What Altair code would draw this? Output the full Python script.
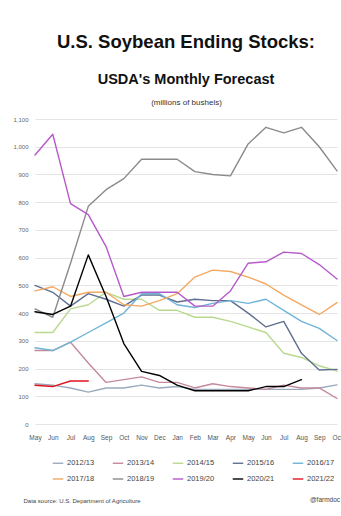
import altair as alt
import pandas as pd

# Forecast months: May of the first marketing year through October of the next
months = ["May", "Jun", "Jul", "Aug", "Sep", "Oct", "Nov", "Dec", "Jan",
          "Feb", "Mar", "Apr", "May", "Jun", "Jul", "Aug", "Sep", "Oct"]

years = ["2012/13", "2013/14", "2014/15", "2015/16", "2016/17",
         "2017/18", "2018/19", "2019/20", "2020/21", "2021/22"]

# USDA monthly ending-stock forecasts, millions of bushels (None = no report)
s_2012 = [145, 140, 130, 115, 130, 130, 140, 130, 135, 125, 125, 125, 125, 125, 125, 125, 130, 141]
s_2013 = [265, 265, 295, 220, 150, None, 170, 150, 150, 130, 145, 135, 130, 125, 140, 130, 130, 92]
s_2014 = [330, 330, 415, 430, 475, 450, 450, 410, 410, 385, 385, 370, 350, 330, 255, 240, 210, 191]
s_2015 = [500, 475, 425, 470, 450, 425, 465, 465, 440, 450, 445, 445, 400, 350, 370, 255, 195, 197]
s_2016 = [275, 265, 295, 330, 365, 400, 470, 470, 430, 420, 435, 445, 435, 450, 410, 370, 345, 301]
s_2017 = [480, 495, 460, 475, 475, 430, 425, 445, 470, 530, 555, 550, 530, 505, 465, 430, 395, 438]
s_2018 = [415, 385, 580, 785, 845, 885, 955, 955, 955, 910, 900, 895, 1010, 1070, 1050, 1070, 1000, 913]
s_2019 = [970, 1045, 795, 755, 640, 460, 475, 475, 475, 425, 425, 480, 580, 585, 620, 615, 575, 523]
s_2020 = [405, 395, 425, 610, 460, 290, 190, 175, 140, 120, 120, 120, 120, 135, 135, 160]
s_2021 = [140, 135, 155, 155]

series = [s_2012, s_2013, s_2014, s_2015, s_2016, s_2017, s_2018, s_2019, s_2020, s_2021]

colors = ["#9aaabd", "#c48a9c", "#b9d98f", "#5f6f8f", "#6fb4d6",
          "#f3a863", "#8a8a8a", "#b65acb", "#000000", "#e0141e"]
widths = [1.4, 1.4, 1.4, 1.4, 1.4, 1.4, 1.4, 1.4, 3.0, 5.0]

rows = []
for year, vals in zip(years, series):
    for i, v in enumerate(vals):
        if v is not None:
            rows.append({"year": year, "m": i, "stocks": v})
df = pd.DataFrame(rows)

month_expr = "[" + ",".join(f"'{m}'" for m in months) + "][datum.value]"

W, H = 302, 305
PAD = {"left": 35, "top": 119, "right": 4, "bottom": 92}
SANS = "Liberation Sans"

lines = alt.Chart(df).mark_line(strokeCap="round", strokeJoin="round").encode(
    x=alt.X("m:Q",
            scale=alt.Scale(domain=[0, 17], nice=False, zero=False),
            axis=alt.Axis(values=list(range(18)), labelExpr=month_expr,
                          title="Data source: U.S. Department of Agriculture",
                          titleX=-12, titleY=78, titleAlign="left",
                          titleAnchor="start", titleBaseline="alphabetic",
                          titleFontSize=6, titleFontWeight="normal",
                          titleColor="#444", grid=False, ticks=False,
                          domain=False, labelFontSize=6.5, labelColor="#555",
                          labelPadding=10, labelFlush=False)),
    y=alt.Y("stocks:Q",
            scale=alt.Scale(domain=[0, 1100], nice=False),
            axis=alt.Axis(values=list(range(0, 1101, 100)), format=",.0f",
                          title="(millions of bushels)", titleAngle=0,
                          titleX=W / 2, titleY=-15, titleAlign="center",
                          titleBaseline="alphabetic", titleFontSize=8,
                          titleFontWeight="normal", titleColor="#333",
                          ticks=False, domain=False, labelFontSize=6,
                          labelColor="#666", labelPadding=7,
                          gridColor="#e4e4e4", gridWidth=1)),
    color=alt.Color("year:N", scale=alt.Scale(domain=years, range=colors),
                    title=None),
    strokeWidth=alt.StrokeWidth("year:N",
                                scale=alt.Scale(domain=years, range=widths),
                                title=None),
    order=alt.Order("m:Q"),
)

credit = alt.Chart(pd.DataFrame({"t": ["@farmdoc"]})).mark_text(
    align="left", baseline="alphabetic", fontSize=6.5, color="#444", font=SANS
).encode(x=alt.value(275), y=alt.value(383), text="t:N")

chart = alt.layer(lines, credit).properties(
    width=W, height=H,
    autosize=alt.AutoSizeParams(type="none"),
    padding=PAD,
    background="white",
    title=alt.TitleParams(
        text="U.S. Soybean Ending Stocks:",
        subtitle="USDA's Monthly Forecast",
        anchor="middle", frame="group",
        font=SANS, fontSize=18.5, fontWeight="bold", color="#111",
        subtitleFont=SANS, subtitleFontSize=14.5, subtitleFontWeight="bold",
        subtitleColor="#111", subtitlePadding=21, offset=12,
    ),
).configure_view(stroke=None).configure_legend(
    orient="none", legendX=17, legendY=338, direction="horizontal",
    columns=5, columnPadding=14, rowPadding=6,
    symbolType="stroke", symbolSize=110, labelFontSize=7.5,
    labelColor="#444", labelFont=SANS, labelOffset=3,
).configure_axis(labelFont=SANS, titleFont=SANS)

chart.save("out.html", embed_options={"renderer": "svg", "actions": False})
